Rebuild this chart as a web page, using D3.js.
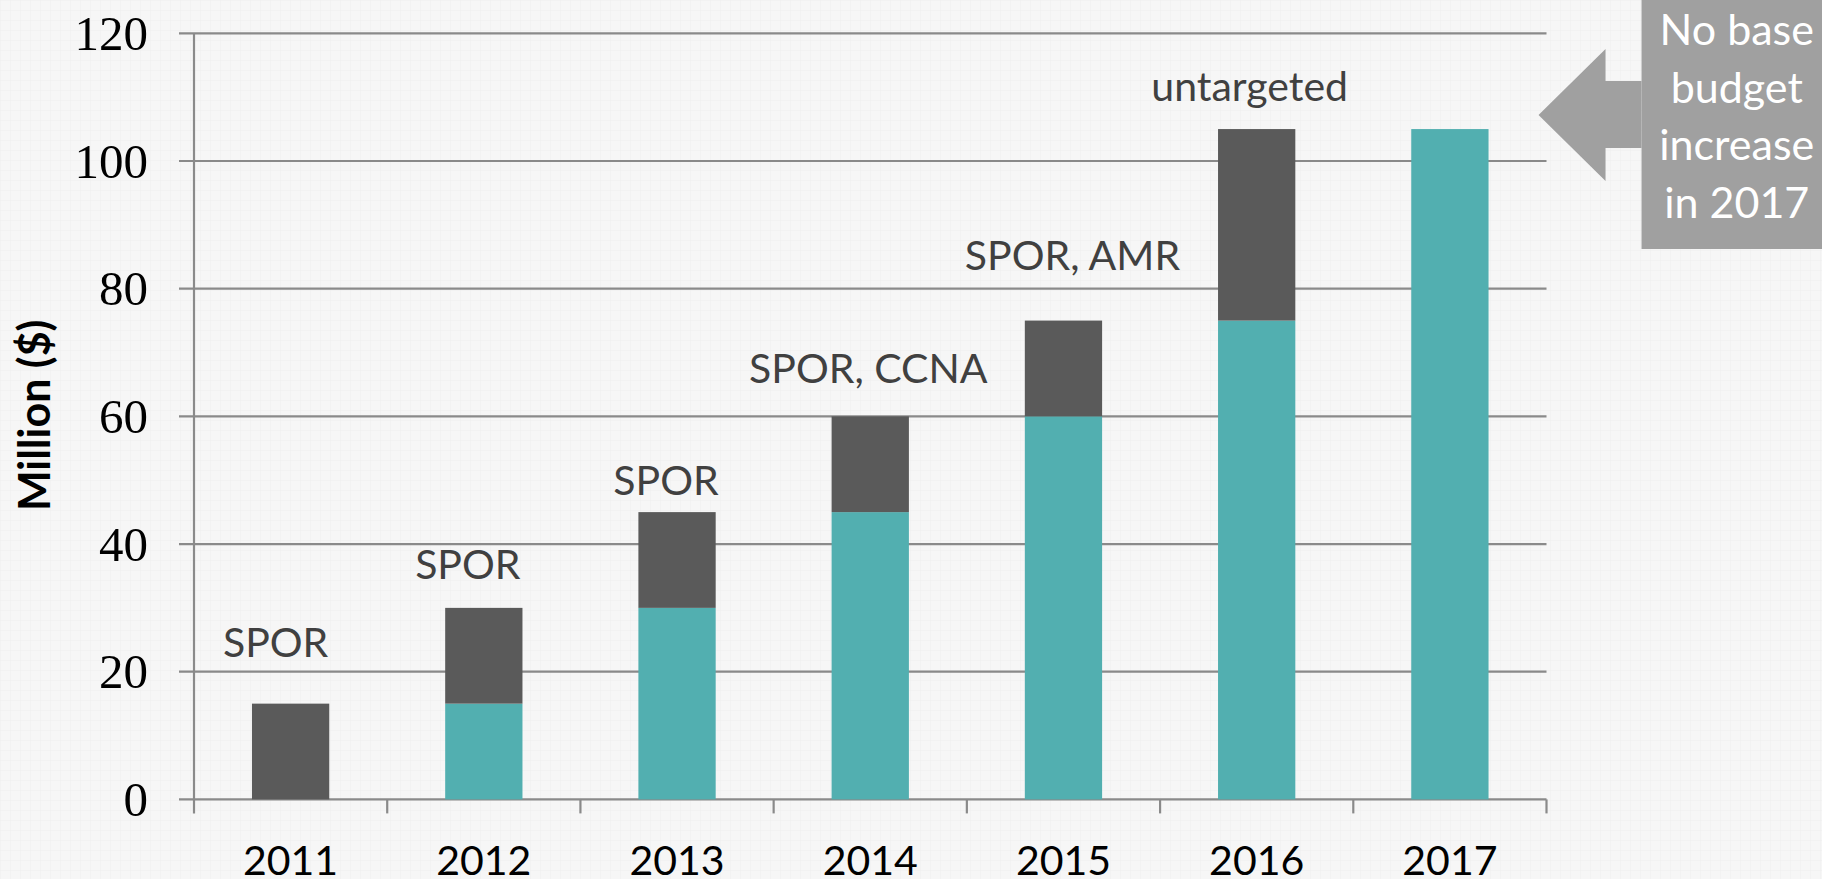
<!DOCTYPE html>
<html>
<head>
<meta charset="utf-8">
<script src="https://cdn.jsdelivr.net/npm/d3@7"></script>
<style>
  html, body { margin: 0; padding: 0; background: #f6f6f6; overflow: hidden; }
  svg { display: block; }
</style>
</head>
<body>
<div id="chart"></div>
<script>
// chart data
const years = ["2011", "2012", "2013", "2014", "2015", "2016", "2017"];
const baseBudget = [0, 15, 30, 45, 60, 75, 105];      // teal
const increase = [15, 15, 15, 15, 15, 30, 0];         // dark grey
const noteText = ["SPOR", "SPOR", "SPOR", "SPOR, CCNA", "SPOR, AMR", "untargeted", ""];
const noteLevel = [22.3, 34.5, 47.7, 65.2, 82.9, 109.4, 0];   // baseline of note, in chart units
const noteShift = [-15, -16, -11, -2, 9, -7, 0];
const yTicks = [0, 20, 40, 60, 80, 100, 120];
const calloutLines = ["No base", "budget", "increase", "in 2017"];

const W = 1822, H = 879;
const margin = {top: 33.3, right: 275.5, bottom: 79.6, left: 194};

const svg = d3.select("#chart")
    .append("svg")
    .attr("width", W)
    .attr("height", H);

// faint graph-paper background
const defs = svg.append("defs");
const pat = defs.append("pattern")
    .attr("id", "paper")
    .attr("width", 10)
    .attr("height", 10)
    .attr("patternUnits", "userSpaceOnUse");
pat.append("rect").attr("width", 10).attr("height", 10).attr("fill", "#f6f6f6");
pat.append("path")
    .attr("d", "M10 0 L0 0 L0 10")
    .attr("fill", "none")
    .attr("stroke", "#eeeeee")
    .attr("stroke-width", 1);
svg.append("rect").attr("width", W).attr("height", H).attr("fill", "url(#paper)");

// scales
const x = d3.scaleBand()
    .domain(years)
    .range([margin.left, W - margin.right])
    .paddingInner(0.6)
    .paddingOuter(0.3);

const y = d3.scaleLinear()
    .domain([0, 120])
    .range([H - margin.bottom, margin.top]);

const x0 = margin.left;
const x1 = W - margin.right;
const gridColor = "#8a8a8a";

// gridlines (with the little tick stub left of the axis)
svg.append("g")
    .selectAll("line")
    .data(yTicks)
    .enter()
    .append("line")
    .attr("x1", x0 - 15)
    .attr("x2", x1)
    .attr("y1", d => y(d))
    .attr("y2", d => y(d))
    .attr("stroke", gridColor)
    .attr("stroke-width", 2.2);

// y axis line
svg.append("line")
    .attr("x1", x0).attr("x2", x0)
    .attr("y1", y(120)).attr("y2", y(0) + 14)
    .attr("stroke", gridColor)
    .attr("stroke-width", 2.2);

// x ticks at category boundaries
const edges = years.map((d, i) => x0 + i * x.step()).concat([x1]);
svg.append("g")
    .selectAll("line")
    .data(edges.slice(1))
    .enter()
    .append("line")
    .attr("x1", d => d).attr("x2", d => d)
    .attr("y1", y(0)).attr("y2", y(0) + 14)
    .attr("stroke", gridColor)
    .attr("stroke-width", 2.2);

// stacked bars
const rows = years.map((yr, i) => ({year: yr, base: baseBudget[i], inc: increase[i]}));
const bars = svg.append("g");

bars.selectAll(".base")
    .data(rows.filter(d => d.base > 0))
    .enter()
    .append("rect")
    .attr("class", "base")
    .attr("x", d => x(d.year))
    .attr("width", x.bandwidth())
    .attr("y", d => y(d.base))
    .attr("height", d => y(0) - y(d.base))
    .attr("fill", "#52afb0");

bars.selectAll(".inc")
    .data(rows.filter(d => d.inc > 0))
    .enter()
    .append("rect")
    .attr("class", "inc")
    .attr("x", d => x(d.year))
    .attr("width", x.bandwidth())
    .attr("y", d => y(d.base + d.inc))
    .attr("height", d => y(d.base) - y(d.base + d.inc))
    .attr("fill", "#5a5a5a");

// y tick labels
svg.append("g")
    .selectAll("text")
    .data(yTicks)
    .enter()
    .append("text")
    .attr("x", x0 - 46)
    .attr("y", d => y(d))
    .attr("dy", "0.34em")
    .attr("text-anchor", "end")
    .style("font-family", "'Liberation Serif', serif")
    .style("font-size", "49px")
    .style("fill", "#000")
    .text(d => d);

// x tick labels
svg.append("g")
    .selectAll("text")
    .data(years)
    .enter()
    .append("text")
    .attr("x", d => x(d) + x.bandwidth() / 2)
    .attr("y", y(0) + 76)
    .attr("text-anchor", "middle")
    .style("font-family", "Lato, sans-serif")
    .style("font-size", "41px")
    .style("fill", "#000")
    .text(d => d);

// notes above bars
svg.append("g")
    .selectAll("text")
    .data(rows.map((d, i) => ({year: d.year, text: noteText[i], level: noteLevel[i], shift: noteShift[i]}))
        .filter(d => d.text))
    .enter()
    .append("text")
    .attr("x", d => x(d.year) + x.bandwidth() / 2 + d.shift)
    .attr("y", d => y(d.level))
    .attr("text-anchor", "middle")
    .style("font-family", "Lato, sans-serif")
    .style("font-size", "41px")
    .style("fill", "#404040")
    .text(d => d.text);

// y axis title
svg.append("text")
    .attr("transform", `translate(50,${(y(0) + y(120)) / 2 - 1}) rotate(-90)`)
    .attr("text-anchor", "middle")
    .style("font-family", "Lato, sans-serif")
    .style("font-weight", "bold")
    .style("font-size", "43px")
    .style("fill", "#000")
    .text("Million ($)");

// callout: arrow pointing at the 2017 bar and text box
const callout = svg.append("g");
const tipX = x("2017") + x.bandwidth() + 50;
const midY = y(107.2);
const headX = tipX + 67;
const boxX = headX + 36;
callout.append("path")
    .attr("d", `M${tipX},${midY} L${headX},${midY - 66} L${headX},${midY - 34} L${boxX},${midY - 34}
                L${boxX},${midY + 33} L${headX},${midY + 33} L${headX},${midY + 66} Z`)
    .attr("fill", "#a0a0a0");
callout.append("rect")
    .attr("x", boxX)
    .attr("y", 0)
    .attr("width", W - boxX)
    .attr("height", 249)
    .attr("fill", "#a0a0a0");
callout.selectAll("text")
    .data(calloutLines)
    .enter()
    .append("text")
    .attr("x", boxX + (W - boxX) / 2 + 5)
    .attr("y", (d, i) => 45 + i * 57.5)
    .attr("text-anchor", "middle")
    .style("font-family", "Lato, sans-serif")
    .style("font-size", "43px")
    .style("fill", "#ffffff")
    .text(d => d);
</script>
</body>
</html>
